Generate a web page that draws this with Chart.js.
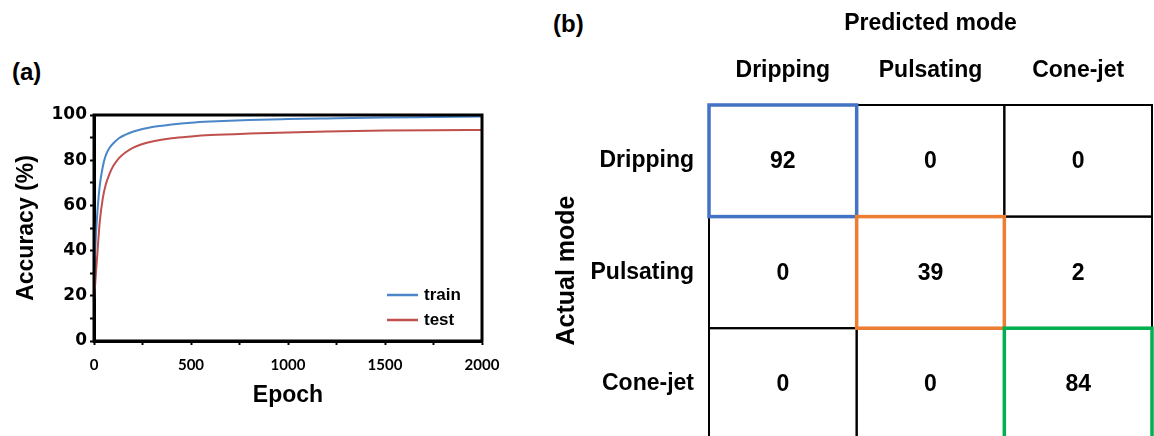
<!DOCTYPE html>
<html lang="en">
<head>
  <meta charset="UTF-8">
  <title>Accuracy and confusion matrix</title>
  <script src="https://cdn.jsdelivr.net/npm/chart.js"></script>
  <style>
    body { margin: 0; background: #fff; }
    #wrap { position: relative; width: 1154px; height: 436px; overflow: hidden; font-family: 'Liberation Sans', Arial, sans-serif; }
    .panel-tag { position: absolute; font-size: 24px; font-weight: bold; color: #000; }
    #accChart { position: absolute; left: 0; top: 0; }
    #cmChart { position: absolute; left: 540px; top: 0; }
  </style>
</head>
<body>
  <div id="wrap">
    <div class="panel-tag" style="left:12px; top:58px;">(a)</div>
    <div class="panel-tag" style="left:553px; top:10px;">(b)</div>
    <canvas id="accChart" width="545" height="436"></canvas>
    <canvas id="cmChart" width="614" height="436"></canvas>
  </div>

  <script>
    // (a) training curves
    const epochs   = [0, 10, 20, 30, 45, 60, 80, 100, 130, 160, 200, 250, 300, 400, 500, 600, 800, 1000, 1200, 1500, 1750, 2000];
    const trainAcc = [28, 47, 60, 69, 77, 82, 85.5, 87.5, 89.8, 91.2, 92.6, 93.8, 94.7, 95.8, 96.6, 97.1, 97.8, 98.2, 98.5, 98.9, 99.1, 99.3];
    const testAcc  = [18, 30, 42, 53, 63, 69, 74, 77.5, 81, 83.3, 85.5, 87.2, 88.3, 89.7, 90.5, 91.1, 91.8, 92.3, 92.7, 93.1, 93.3, 93.4];

    // (b) confusion matrix, rows = actual, columns = predicted
    const modes = ['Dripping', 'Pulsating', 'Cone-jet'];
    const drippingRow  = [92, 0, 0];
    const pulsatingRow = [0, 39, 2];
    const coneJetRow   = [0, 0, 84];
    const matrixRows = [drippingRow, pulsatingRow, coneJetRow];

    const arial = "'Liberation Sans', Arial, sans-serif";
    Chart.defaults.color = '#000';
    Chart.defaults.font.family = arial;
    Chart.defaults.font.weight = 'bold';

    // frame + in-plot legend for panel (a)
    const framePlugin = {
      id: 'frame',
      afterDatasetsDraw(chart) {
        const { ctx, chartArea: a } = chart;
        ctx.save();
        ctx.strokeStyle = '#000';
        ctx.lineWidth = 3;
        ctx.strokeRect(a.left, a.top, a.right - a.left, a.bottom - a.top);

        ctx.font = 'bold 17px ' + arial;
        ctx.textBaseline = 'middle';
        chart.data.datasets.forEach((ds, i) => {
          const y = 295 + i * 25;
          ctx.strokeStyle = ds.borderColor;
          ctx.lineWidth = 2.5;
          ctx.beginPath();
          ctx.moveTo(387, y);
          ctx.lineTo(418, y);
          ctx.stroke();
          ctx.fillStyle = '#000';
          ctx.fillText(ds.label, 424, y);
        });
        ctx.restore();
      }
    };

    new Chart(document.getElementById('accChart'), {
      type: 'line',
      data: {
        datasets: [
          {
            label: 'train',
            data: epochs.map((e, i) => ({ x: e, y: trainAcc[i] })),
            borderColor: '#4a86c8',
            borderWidth: 2,
            pointRadius: 0,
            cubicInterpolationMode: 'monotone'
          },
          {
            label: 'test',
            data: epochs.map((e, i) => ({ x: e, y: testAcc[i] })),
            borderColor: '#c0504d',
            borderWidth: 2,
            pointRadius: 0,
            cubicInterpolationMode: 'monotone'
          }
        ]
      },
      options: {
        responsive: false,
        animation: false,
        layout: { padding: { top: 115, right: 63, left: 0, bottom: 0 } },
        plugins: { legend: { display: false }, tooltip: { enabled: false } },
        scales: {
          x: {
            type: 'linear',
            min: 0,
            max: 2000,
            afterFit: (s) => { s.height = 95; },
            ticks: {
              stepSize: 250,
              autoSkip: false,
              maxRotation: 0,
              padding: 11,
              font: { family: 'Lato', size: 15, weight: 'bold' },
              callback: (v) => (v % 500 === 0 ? v : '')
            },
            grid: { drawOnChartArea: false, tickLength: 4, tickWidth: 2, tickColor: '#000' },
            border: { color: '#000', width: 3 },
            title: { display: true, text: 'Epoch', font: { size: 23, weight: 'bold' }, padding: { top: 0, bottom: 27 } }
          },
          y: {
            min: 0,
            max: 100,
            afterFit: (s) => { s.width = 94; },
            ticks: {
              stepSize: 10,
              autoSkip: false,
              padding: 3,
              font: { family: 'DejaVu Sans', size: 17, weight: 'bold' },
              callback: (v) => (v % 20 === 0 ? v : '')
            },
            grid: { drawOnChartArea: false, tickLength: 4, tickWidth: 2, tickColor: '#000' },
            border: { color: '#000', width: 3 },
            title: { display: true, text: 'Accuracy (%)', font: { size: 23, weight: 'bold' }, padding: { top: 13, bottom: 0 } }
          }
        }
      },
      plugins: [framePlugin]
    });

    // cells of the confusion matrix, placed by the chart's own scales
    const diagColors = ['#4472c4', '#ed7d31', '#00b050'];
    const cellPlugin = {
      id: 'cells',
      afterDatasetsDraw(chart) {
        const { ctx } = chart;
        const xs = chart.scales.x, ys = chart.scales.y;
        const pts = chart.getDatasetMeta(0).data;
        const raw = chart.data.datasets[0].data;
        ctx.save();
        const box = (d) => {
          const x0 = xs.getPixelForValue(d.x - 0.5), x1 = xs.getPixelForValue(d.x + 0.5);
          const y0 = ys.getPixelForValue(d.y - 0.5), y1 = ys.getPixelForValue(d.y + 0.5);
          return [x0, y0, x1 - x0, y1 - y0];
        };
        ctx.strokeStyle = '#000';
        ctx.lineWidth = 2;
        raw.forEach((d) => ctx.strokeRect(...box(d)));
        raw.forEach((d) => {
          if (d.row === d.col) {
            ctx.strokeStyle = diagColors[d.row];
            ctx.lineWidth = 3.5;
            ctx.strokeRect(...box(d));
          }
        });
        ctx.fillStyle = '#000';
        ctx.font = 'bold 23px ' + arial;
        ctx.textAlign = 'center';
        ctx.textBaseline = 'middle';
        pts.forEach((p, i) => ctx.fillText(String(raw[i].v), p.x, p.y + 1));
        ctx.restore();
      }
    };

    const cellData = [];
    matrixRows.forEach((row, r) => row.forEach((v, c) => cellData.push({ x: c + 0.5, y: r + 0.5, v, row: r, col: c })));
    const centreTicks = (s) => { s.ticks = modes.map((m, i) => ({ value: i + 0.5 })); };

    new Chart(document.getElementById('cmChart'), {
      type: 'scatter',
      data: { datasets: [{ data: cellData, pointRadius: 0 }] },
      options: {
        responsive: false,
        animation: false,
        layout: { padding: { top: 0, right: 2, left: 0, bottom: 0 } },
        plugins: { legend: { display: false }, tooltip: { enabled: false } },
        scales: {
          x: {
            type: 'linear',
            position: 'top',
            min: 0,
            max: 3,
            afterBuildTicks: centreTicks,
            afterFit: (s) => { s.height = 105; },
            ticks: { padding: 13, font: { size: 23, weight: 'bold' }, callback: (v) => modes[Math.floor(v)] },
            grid: { display: false },
            border: { display: false },
            title: { display: true, text: 'Predicted mode', font: { size: 23, weight: 'bold' }, padding: { top: 10, bottom: 0 } }
          },
          y: {
            type: 'linear',
            reverse: true,
            min: 0,
            max: 2.966,
            afterBuildTicks: centreTicks,
            afterFit: (s) => { s.width = 169; s.paddingTop = 0; s.paddingBottom = 0; },
            ticks: { padding: 7, font: { size: 23, weight: 'bold' }, callback: (v) => modes[Math.floor(v)] },
            grid: { display: false },
            border: { display: false },
            title: { display: true, text: 'Actual mode', font: { size: 25, weight: 'bold' }, padding: { top: 12, bottom: 0 } }
          }
        }
      },
      plugins: [cellPlugin]
    });
  </script>
</body>
</html>
